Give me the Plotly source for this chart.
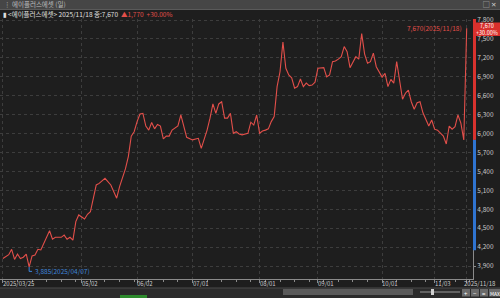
import plotly.graph_objects as go

# ---- data (trading-day index from 2025/03/25, close price) ----
day_idx = [0, 1, 2, 3, 4, 5, 6, 7, 8, 9, 10, 11, 12, 13, 14, 15, 16, 17, 18, 20,
           21, 22, 23, 24, 25, 26, 28, 29, 30, 32, 33, 35, 37, 39, 40, 42, 43, 44, 45, 46,
           47, 48, 49, 50, 51, 52, 53, 54, 55, 56, 57, 58, 60, 61, 62, 63, 65, 66, 67, 68,
           70, 71, 72, 73, 74, 75, 76, 77, 78, 79, 80, 81, 82, 84, 85, 86, 87, 88, 89, 90,
           91, 92, 93, 94, 95, 96, 97, 98, 99, 100, 101, 102, 103, 104, 105, 106, 107, 108, 109, 110,
           111, 112, 113, 114, 115, 116, 117, 118, 119, 120, 121, 122, 123, 124, 125, 126, 127, 128, 129, 130,
           131, 132, 133, 134, 135, 136, 137, 138, 139, 140, 141, 142, 143, 144, 145, 146, 147, 148, 149, 150,
           151, 152, 153, 154, 155, 156, 157, 158, 159]
close = [4020, 4045, 4080, 4165, 4005, 4090, 4020, 4040, 4090, 3885, 4060, 4075, 4165, 4155, 4260, 4375, 4460, 4325, 4355, 4355,
         4390, 4325, 4355, 4310, 4605, 4710, 4645, 4720, 4760, 5185, 5210, 5290, 5185, 4975, 5160, 5440, 5635, 5960, 6030, 6190,
         6310, 6320, 6120, 6055, 6175, 6075, 6145, 6120, 5915, 5960, 5960, 6055, 6120, 6295, 6135, 5940, 5900, 5910, 5925, 5765,
         6055, 6245, 6470, 6320, 6470, 6505, 6245, 6245, 6320, 6005, 6030, 5995, 5980, 6005, 6180, 6135, 6295, 6005, 6040, 6055,
         6075, 6190, 6270, 6745, 6980, 7450, 7035, 6930, 6885, 6720, 6745, 6865, 6745, 6800, 6760, 6770, 6815, 7035, 7035, 7045,
         6900, 6930, 7140, 7150, 7180, 7220, 7380, 7300, 7045, 7125, 7220, 7180, 7585, 7260, 7115, 7140, 7275, 7060, 6980, 6895,
         6955, 6745, 6860, 6800, 7140, 6850, 6545, 6640, 6690, 6505, 6385, 6490, 6505, 6330, 6225, 6120, 6215, 6070, 6055, 6015,
         5960, 5835, 6120, 6070, 6110, 6295, 6165, 5900, 7670]

tick_idx = [0, 27, 46, 65, 88, 108, 130, 148, 159]
tick_text = ["2025/03/25", "05/02", "06/02", "07/01", "08/01", "09/01", "10/01", "11/03", "2025/11/18"]
y_ticks = [3900, 4200, 4500, 4800, 5100, 5400, 5700, 6000, 6300, 6600, 6900, 7200, 7500, 7800]
y_labels = ["3,900", "4,200", "4,500", "4,800", "5,100", "5,400", "5,700", "6,000",
            "6,300", "6,600", "6,900", "7,200", "7,500", "7,800"]
low_idx, low_val, low_text = 9, 3885, "3,885(2025/04/07)"
last_idx, last_val, last_text = 159, 7670, "7,670(2025/11/18)"
prev_close = 5900
band_low = 4150
header_name = "에이플러스에셋 (일)"
header_info = "▮ <에이플러스에셋> 2025/11/18 종:7,670"
header_chg = "▲1,770  +30.00%"
tag_price, tag_pct = "7,670", "+30.00%"
buttons = ["+", "−", "=", "MAX"]

# ---- layout geometry (pixels) ----
W, H = 500, 298
ML, MR, MT, MB = 0, 27, 19, 19
PW, PH = W - ML - MR, H - MT - MB


def px(x):
    return (x - ML) / PW


def py(y):
    return (H - MB - y) / PH


FONT = "Noto Sans CJK KR, Noto Sans, DejaVu Sans"
BG = "#1e1e1e"
RED = "#e24f4a"
BLUE = "#3f86dc"
GRID = "#3d3d3d"
TXT = "#c8c8c8"

fig = go.Figure()
fig.add_trace(go.Scatter(x=day_idx, y=close, mode="lines",
                         line=dict(color=RED, width=1.1), hoverinfo="skip"))

shapes = []
# right axis range strips
shapes.append(dict(type="rect", xref="paper", yref="y", x0=1.0, x1=1.0 + 3 / PW,
                   y0=prev_close, y1=7817, fillcolor="#d8322e", line_width=0, layer="above"))
shapes.append(dict(type="rect", xref="paper", yref="y", x0=1.0, x1=1.0 + 3 / PW,
                   y0=band_low, y1=prev_close, fillcolor="#2f74d0", line_width=0, layer="above"))
# price tag
shapes.append(dict(type="rect", xref="paper", yref="paper", x0=px(474), x1=px(500),
                   y0=py(36), y1=py(22.5), fillcolor="#d9302c", line_width=0, layer="above"))
# low-point connector
shapes.append(dict(type="path", xref="x", yref="y",
                   path=f"M {low_idx},{low_val} L {low_idx},3815 L {low_idx + 1.0},3815",
                   line=dict(color=BLUE, width=1)))
# header bars
shapes.append(dict(type="rect", xref="paper", yref="paper", x0=px(0), x1=px(500),
                   y0=py(9), y1=py(0), fillcolor="#464646", line_width=0, layer="above"))
shapes.append(dict(type="line", xref="paper", yref="paper", x0=px(0), x1=px(500),
                   y0=py(9.5), y1=py(9.5), line=dict(color="#5a5a5a", width=1), layer="above"))
# bottom toolbar
shapes.append(dict(type="rect", xref="paper", yref="paper", x0=px(0), x1=px(500),
                   y0=py(298), y1=py(288), fillcolor="#2b2b2b", line_width=0, layer="above"))
shapes.append(dict(type="line", xref="paper", yref="paper", x0=px(0), x1=px(500),
                   y0=py(288), y1=py(288), line=dict(color="#4a4a4a", width=1), layer="above"))
shapes.append(dict(type="rect", xref="paper", yref="paper", x0=px(120), x1=px(147),
                   y0=py(298), y1=py(295), fillcolor="#2e8b2e", line_width=0, layer="above"))
shapes.append(dict(type="rect", xref="paper", yref="paper", x0=px(283), x1=px(413),
                   y0=py(295), y1=py(289), fillcolor="#5a5a5a", line_width=0, layer="above"))
shapes.append(dict(type="line", xref="paper", yref="paper", x0=px(420), x1=px(460),
                   y0=py(292), y1=py(292), line=dict(color="#9a9a9a", width=1), layer="above"))
shapes.append(dict(type="rect", xref="paper", yref="paper", x0=px(431), x1=px(434),
                   y0=py(295), y1=py(289), fillcolor="#d0d0d0", line_width=0, layer="above"))
btn_boxes = [(462, 470), (471, 479), (480, 488), (489, 500)]
for bx0, bx1 in btn_boxes:
    shapes.append(dict(type="rect", xref="paper", yref="paper", x0=px(bx0), x1=px(bx1),
                       y0=py(296.5), y1=py(289), fillcolor="#6a6a6a", line_width=0, layer="above"))

annotations = []
# x tick labels (left aligned at tick)
for i, (ti, tt) in enumerate(zip(tick_idx, tick_text)):
    if i == len(tick_idx) - 1:
        annotations.append(dict(x=px(497), xref="paper", y=py(283), yref="paper", text=tt,
                                showarrow=False, xanchor="right", yanchor="middle", borderpad=0,
                                font=dict(size=6, color=TXT, family=FONT)))
    else:
        annotations.append(dict(x=ti, xref="x", y=py(283), yref="paper", text=tt,
                                showarrow=False, xanchor="left", yanchor="middle", xshift=-1,
                                borderpad=0, font=dict(size=6, color=TXT, family=FONT)))
# low / last labels
annotations.append(dict(x=low_idx + 1.0, xref="x", y=3815, yref="y", text=low_text,
                        showarrow=False, xanchor="left", yanchor="middle", xshift=1,
                        font=dict(size=6.5, color=BLUE, family=FONT)))
annotations.append(dict(x=last_idx, xref="x", y=last_val, yref="y", text=last_text,
                        showarrow=False, xanchor="right", yanchor="middle", xshift=-3,
                        font=dict(size=6.5, color=RED, family=FONT)))
# price tag text (two lines in one label)
annotations.append(dict(x=px(487), xref="paper", y=py(29.3), yref="paper",
                        text=f"{tag_price}<br>{tag_pct}",
                        showarrow=False, xanchor="center", yanchor="middle", borderpad=0,
                        align="center",
                        font=dict(size=5.5, color="#ffffff", family=FONT)))
# header texts
annotations.append(dict(x=px(3), xref="paper", y=py(4.5), yref="paper", text="⋮ " + header_name,
                        showarrow=False, xanchor="left", yanchor="middle", borderpad=0,
                        font=dict(size=6.5, color="#bdbdbd", family=FONT)))
annotations.append(dict(x=px(497), xref="paper", y=py(4.5), yref="paper", text="▢ ✕",
                        showarrow=False, xanchor="right", yanchor="middle", borderpad=0,
                        font=dict(size=6.5, color="#d0d0d0", family=FONT)))
annotations.append(dict(x=px(2), xref="paper", y=py(13.5), yref="paper",
                        text=f"<span style='color:#e0e0e0'>{header_info}</span>  "
                             f"<span style='color:{RED}'>{header_chg}</span>",
                        showarrow=False, xanchor="left", yanchor="middle", borderpad=0,
                        font=dict(size=6.5, family=FONT)))
# bottom toolbar texts
for (bx0, bx1), bt in zip(btn_boxes, buttons):
    annotations.append(dict(x=px((bx0 + bx1) / 2), xref="paper", y=py(293), yref="paper",
                            text=bt, showarrow=False, borderpad=0,
                            xanchor="center", yanchor="middle",
                            font=dict(size=5 if bt == "MAX" else 6, color="#ffffff", family=FONT)))

fig.update_layout(
    width=W, height=H,
    margin=dict(l=ML, r=MR, t=MT, b=MB),
    paper_bgcolor=BG, plot_bgcolor=BG,
    showlegend=False,
    shapes=shapes,
    annotations=annotations,
    xaxis=dict(range=[-0.994, 161.16], tickvals=tick_idx, showticklabels=False,
               showgrid=True, gridcolor=GRID, griddash="dot", gridwidth=1,
               zeroline=False, showline=True, linecolor="#8a8a8a", linewidth=1,
               ticks="outside", ticklen=3, tickcolor="#8a8a8a",
               minor=dict(dtick=5, tick0=0, ticks="outside", ticklen=2,
                          tickcolor="#8a8a8a", showgrid=False)),
    yaxis=dict(range=[3694, 7817], side="right", tickvals=y_ticks, ticktext=y_labels,
               showgrid=True, gridcolor=GRID, griddash="dot", gridwidth=1,
               zeroline=False, showline=True, linecolor="#8a8a8a", linewidth=1,
               ticks="outside", ticklen=2, tickcolor="#8a8a8a",
               tickfont=dict(size=6.5, color=TXT, family=FONT)),
)

fig.write_html("out.html")
